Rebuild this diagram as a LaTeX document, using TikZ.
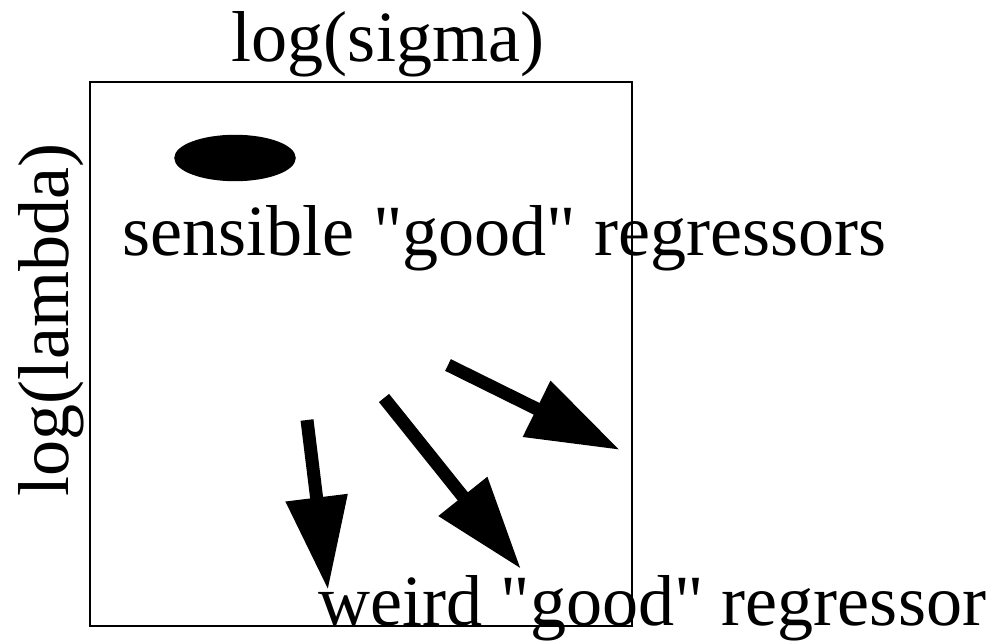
\documentclass[tikz,border=0pt]{standalone}
\usepackage{fontspec}
\setmainfont{Liberation Serif}
\usepackage{tikz}
\usetikzlibrary{arrows.meta,shapes.geometric}

\begin{document}
\begin{tikzpicture}[
  x=0.01cm, y=-0.01cm,
  font=\fontsize{20.5}{24}\selectfont,
  label/.style={inner sep=0pt},
  fatarrow/.style={-{Triangle[length=0.93cm, width=0.59cm]}, line width=0.13cm},
  blob/.style={draw, fill=black, ellipse, minimum width=1.2cm, minimum height=0.45cm, inner sep=0pt}
]
\useasboundingbox (0,0) rectangle (1001,643);
\node[draw, line width=0.5pt, minimum width=5.42cm, minimum height=5.44cm, inner sep=0pt] (plane) at (361,354) {};

\node[label, anchor=base] (xlab) at (388,62) {log(sigma)};
\node[label, rotate=90] (ylab) at (51,320) {log(lambda)};

\node[blob] (good) at (235,158) {};
\node[label, anchor=base west] (sensible) at (122,255) {sensible \textquotedbl good\textquotedbl{} regressors};
\node[label, anchor=base west] (weird) at (318,625) {weird \textquotedbl good\textquotedbl{} regressor};

% arrows towards the weird region
\coordinate (a1) at (307,420); \coordinate (b1) at (328,590);
\coordinate (a2) at (384,398); \coordinate (b2) at (521,569);
\coordinate (a3) at (448,365); \coordinate (b3) at (620,450);
\foreach \i in {1,2,3} \draw[fatarrow] (a\i) -- (b\i);
\end{tikzpicture}
\end{document}
